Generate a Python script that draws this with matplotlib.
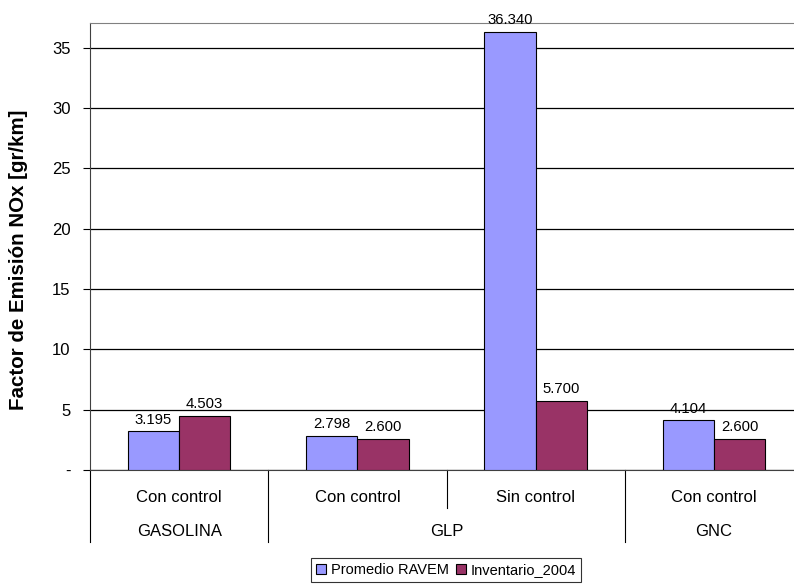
import numpy as np
import matplotlib.pyplot as plt
import matplotlib.transforms as mtransforms

plt.rcParams['font.family'] = ['Liberation Sans', 'DejaVu Sans']

subcats = ['Con control', 'Con control', 'Sin control', 'Con control']
groups = ['GASOLINA', 'GLP', 'GNC']
group_span = [(0, 0), (1, 2), (3, 3)]
ravem = [3.195, 2.798, 36.340, 4.104]
inventario = [4.503, 2.600, 5.700, 2.600]
series_names = ['Promedio RAVEM', 'Inventario_2004']
colors = ['#9999FF', '#993366']

fig = plt.figure(figsize=(7.94, 5.84), dpi=100)
ax = fig.add_axes([90/794, (584-470)/584, (803-90)/794, (470-23)/584])

x = np.arange(len(subcats))
w = 0.287
b1 = ax.bar(x - w/2, ravem, w, color=colors[0], edgecolor='black', linewidth=0.8,
            label=series_names[0], zorder=3)
b2 = ax.bar(x + w/2, inventario, w, color=colors[1], edgecolor='black', linewidth=0.8,
            label=series_names[1], zorder=3)

for bars, vals in [(b1, ravem), (b2, inventario)]:
    for r, v in zip(bars, vals):
        ax.annotate(f'{v:.3f}', (r.get_x() + r.get_width()/2, v), xytext=(0, 3.5),
                    textcoords='offset points', ha='center', va='bottom', fontsize=10.7)

ax.set_xlim(-0.5, 3.5)
ax.set_ylim(0, 37.05)
ax.set_yticks(range(0, 40, 5))
ax.set_yticklabels(['-'] + [str(v) for v in range(5, 40, 5)], fontsize=12)
ax.yaxis.grid(True, color='black', linewidth=0.9, zorder=0)
ax.set_axisbelow(True)
ax.tick_params(axis='y', length=5, width=0.8, pad=9)
ax.set_xticks([])

ax.spines['right'].set_visible(False)
ax.spines['top'].set_color('#808080')
ax.spines['left'].set_color('#404040')
ax.spines['bottom'].set_color('#404040')

ax.set_ylabel('Factor de Emisión NOx [gr/km]', fontsize=14.8, fontweight='bold')
ax.yaxis.set_label_coords(-62/713, (470-260)/447)

# multi-level category axis
trans = mtransforms.blended_transform_factory(ax.transData, ax.transAxes)
h = 447.0
short = -38/h
long_ = -72/h
for i, lab in enumerate(subcats):
    ax.text(i, -27/h, lab, transform=trans, ha='center', va='center', fontsize=12)
for xe in [-0.5, 0.5, 1.5, 2.5]:
    depth = short if xe == 1.5 else long_
    ax.plot([xe, xe], [0, depth], transform=trans, color='black', linewidth=0.8, clip_on=False)
for g, (a, b) in zip(groups, group_span):
    ax.text((a + b)/2, -62/h, g, transform=trans, ha='center', va='center', fontsize=12)

leg = fig.legend(loc='center', bbox_to_anchor=(446/794, (584-570)/584), ncol=2,
                 fontsize=10.5, frameon=True, fancybox=False, handlelength=0.7,
                 handleheight=0.7, handletextpad=0.3, columnspacing=0.5,
                 borderpad=0.35, borderaxespad=0)
leg.get_frame().set_edgecolor('black')
leg.get_frame().set_linewidth(0.8)

fig.savefig('out.png', dpi=100)
